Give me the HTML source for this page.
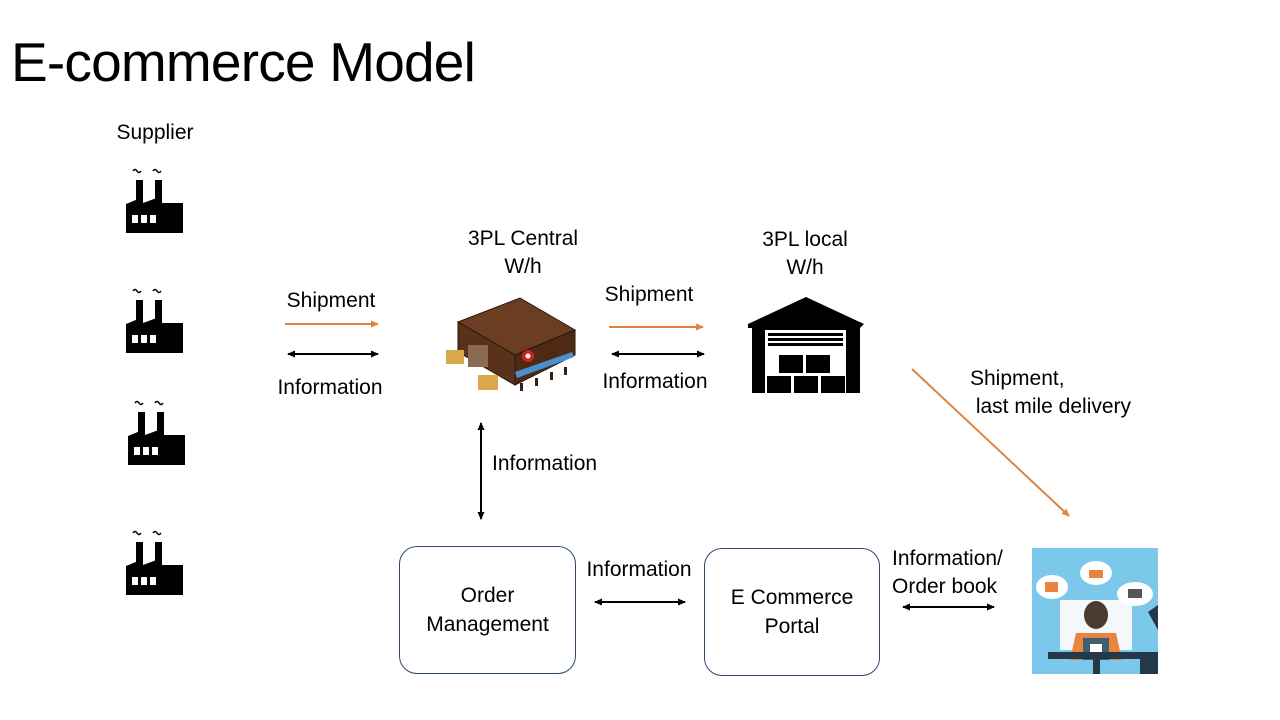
<!DOCTYPE html>
<html><head><meta charset="utf-8"><style>
body{margin:0;width:1280px;height:720px;background:#fff;overflow:hidden;position:relative;font-family:"Liberation Sans",sans-serif;color:#000}
.t{position:absolute;font-size:21px;white-space:nowrap;text-align:center;line-height:28px}
.box{position:absolute;border:1px solid #2e4a6b;border-radius:18px;background:#fff;display:flex;align-items:center;justify-content:center;text-align:center;font-size:21px;line-height:29px}
</style></head><body>
<div style="position:absolute;left:11px;top:35px;font-size:55px;line-height:55px;letter-spacing:-0.8px;white-space:nowrap">E-commerce Model</div>
<div class="t" style="left:105px;top:119px;width:100px">Supplier</div>
<div class="t" style="left:438px;top:225px;width:170px">3PL Central<br>W/h</div>
<div class="t" style="left:730px;top:226px;width:150px">3PL local<br>W/h</div>
<div class="t" style="left:266px;top:287px;width:130px">Shipment</div>
<div class="t" style="left:260px;top:374px;width:140px">Information</div>
<div class="t" style="left:584px;top:281px;width:130px">Shipment</div>
<div class="t" style="left:585px;top:368px;width:140px">Information</div>
<div class="t" style="left:492px;top:450px;text-align:left">Information</div>
<div class="t" style="left:970px;top:365px;text-align:left">Shipment,<br>&nbsp;last mile delivery</div>
<div class="t" style="left:570px;top:556px;width:138px">Information</div>
<div class="t" style="left:892px;top:545px;text-align:left">Information/<br>Order book</div>
<div class="box" style="left:399px;top:546px;width:175px;height:126px">Order<br>Management</div>
<div class="box" style="left:704px;top:548px;width:174px;height:126px">E Commerce<br>Portal</div>
<svg width="1280" height="720" style="position:absolute;left:0;top:0">
<defs>
<marker id="ab" markerWidth="8" markerHeight="8" refX="7" refY="4" orient="auto-start-reverse" markerUnits="userSpaceOnUse"><path d="M0,0.5 L8,4 L0,7.5z" fill="#000"/></marker>
<marker id="ao" markerWidth="8" markerHeight="8" refX="7" refY="4" orient="auto" markerUnits="userSpaceOnUse"><path d="M0,0.5 L8,4 L0,7.5z" fill="#e0823d"/></marker>
<g id="f">
<path d="M3,-3 q2,-3 4,0 q2,3 4,0" stroke="#000" fill="none" stroke-width="1.5" transform="translate(4,6)"/>
<path d="M3,-3 q2,-3 4,0 q2,3 4,0" stroke="#000" fill="none" stroke-width="1.5" transform="translate(24,6)"/>
<rect x="10" y="12" width="7" height="22" fill="#000"/>
<rect x="29" y="12" width="7" height="22" fill="#000"/>
<path d="M0,36 L17,29 L17,35 L36,28 L36,35 L57,35 L57,65 L0,65z" fill="#000"/>
<rect x="6" y="47" width="6" height="8" fill="#fff"/><rect x="15" y="47" width="6" height="8" fill="#fff"/><rect x="24" y="47" width="6" height="8" fill="#fff"/>
</g>
</defs>
<use href="#f" x="126" y="168"/>
<use href="#f" x="126" y="288"/>
<use href="#f" x="128" y="400"/>
<use href="#f" x="126" y="530"/>
<line x1="285" y1="324" x2="378" y2="324" stroke="#e0823d" stroke-width="2" marker-end="url(#ao)"/>
<line x1="288" y1="354" x2="378" y2="354" stroke="#000" stroke-width="2" marker-start="url(#ab)" marker-end="url(#ab)"/>
<line x1="609" y1="327" x2="703" y2="327" stroke="#e0823d" stroke-width="2" marker-end="url(#ao)"/>
<line x1="612" y1="354" x2="704" y2="354" stroke="#000" stroke-width="2" marker-start="url(#ab)" marker-end="url(#ab)"/>
<line x1="481" y1="423" x2="481" y2="519" stroke="#000" stroke-width="2" marker-start="url(#ab)" marker-end="url(#ab)"/>
<line x1="912" y1="369" x2="1069" y2="516" stroke="#e0823d" stroke-width="2" marker-end="url(#ao)"/>
<line x1="595" y1="602" x2="685" y2="602" stroke="#000" stroke-width="2" marker-start="url(#ab)" marker-end="url(#ab)"/>
<line x1="903" y1="607" x2="994" y2="607" stroke="#000" stroke-width="2" marker-start="url(#ab)" marker-end="url(#ab)"/>
<g>
<polygon points="458,322 520,298 575,330 515,355" fill="#6b3d22" stroke="#2a160a"/>
<polygon points="458,322 515,355 515,385 458,352" fill="#5a3119" stroke="#2a160a"/>
<polygon points="515,355 575,330 575,355 515,385" fill="#4e2a15" stroke="#2a160a"/>
<polygon points="515,372 572,352 574,357 517,378" fill="#4a8fd0"/>
<rect x="468" y="345" width="20" height="22" fill="#8a6a50"/>
<rect x="446" y="350" width="18" height="14" fill="#d9a84a"/>
<rect x="478" y="375" width="20" height="15" fill="#d9a84a"/>
<circle cx="528" cy="356" r="6" fill="#e22" opacity="0.8"/>
<circle cx="528" cy="356" r="2.5" fill="#fff"/>
<rect x="520" y="383" width="3" height="8" fill="#3a2010"/><rect x="535" y="378" width="3" height="8" fill="#3a2010"/><rect x="550" y="372" width="3" height="8" fill="#3a2010"/><rect x="564" y="367" width="3" height="8" fill="#3a2010"/>
</g>
<polygon points="806,297 864,324 860,328 748,328 748,324" fill="#000"/>
<rect x="752" y="324" width="108" height="69" fill="#000"/>
<rect x="765" y="330" width="81" height="63" fill="#fff"/>
<rect x="768" y="333" width="75" height="3" fill="#000"/><rect x="768" y="338" width="75" height="3" fill="#000"/><rect x="768" y="343" width="75" height="3" fill="#000"/>
<rect x="779" y="355" width="24" height="18" fill="#000"/><rect x="806" y="355" width="24" height="18" fill="#000"/>
<rect x="767" y="376" width="24" height="17" fill="#000"/><rect x="794" y="376" width="24" height="17" fill="#000"/><rect x="821" y="376" width="24" height="17" fill="#000"/>
<rect x="1032" y="548" width="126" height="126" fill="#7cc8ea"/>
<rect x="1060" y="600" width="72" height="50" fill="#f4f8fb"/>
<ellipse cx="1052" cy="587" rx="16" ry="12" fill="#fff"/>
<ellipse cx="1096" cy="573" rx="16" ry="12" fill="#fff"/>
<ellipse cx="1135" cy="594" rx="18" ry="12" fill="#fff"/>
<rect x="1045" y="582" width="13" height="10" fill="#e8843f"/>
<rect x="1089" y="570" width="14" height="8" fill="#e8843f"/>
<rect x="1128" y="589" width="14" height="9" fill="#555"/>
<ellipse cx="1096" cy="615" rx="12" ry="14" fill="#4a3a30"/>
<path d="M1070,660 L1076,633 L1116,633 L1122,660z" fill="#e8843f"/>
<rect x="1083" y="638" width="26" height="22" fill="#3f5f70"/>
<rect x="1090" y="644" width="12" height="10" fill="#fff"/>
<rect x="1048" y="652" width="110" height="7" fill="#243848"/>
<rect x="1093" y="659" width="7" height="15" fill="#243848"/>
<rect x="1140" y="655" width="18" height="19" fill="#243848"/>
<polygon points="1148,612 1158,605 1158,630" fill="#243848"/>
</svg>
</body></html>
